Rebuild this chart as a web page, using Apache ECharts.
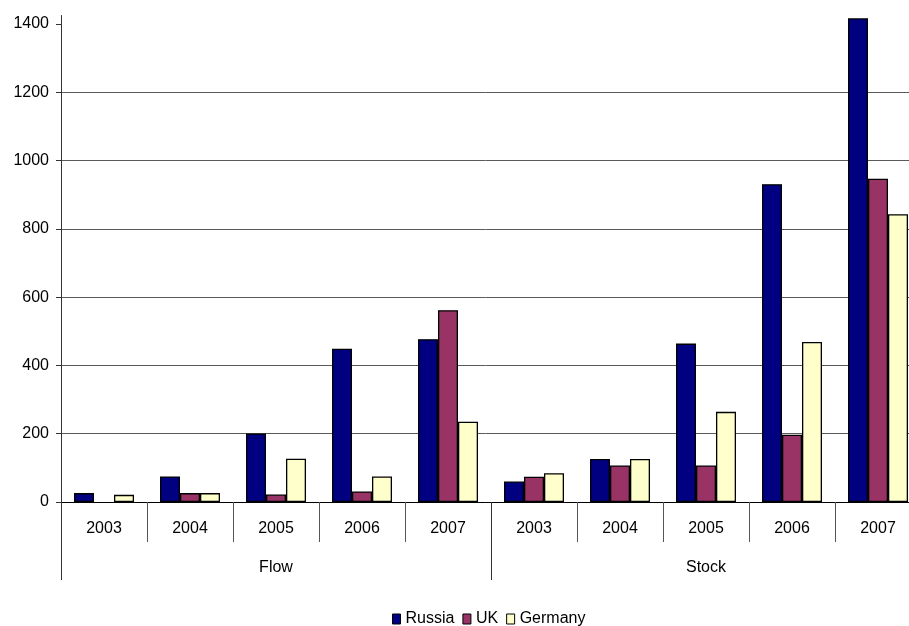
<!DOCTYPE html>
<html>
<head>
<meta charset="utf-8">
<script src="https://cdn.jsdelivr.net/npm/echarts@6/dist/echarts.min.js"></script>
<style>
  html, body { margin: 0; padding: 0; background: #fff; }
  #chart { width: 909px; height: 626px; }
</style>
</head>
<body>
<div id="chart"></div>
<script>
// Categories: five years under each of the two groups
const groups = ['Flow', 'Stock'];
const years = ['2003', '2004', '2005', '2006', '2007'];

// Values per country: Flow 2003-2007, then Stock 2003-2007
const russia  = [26, 75, 201, 449, 477, 60, 126, 464, 931, 1417];
const uk      = [null, 26, 22, 31, 562, 74, 107, 107, 197, 947];
const germany = [21, 26, 127, 75, 235, 84, 126, 264, 469, 843];

// Value axis tick labels
const yTicks = [0, 200, 400, 600, 800, 1000, 1200, 1400];

const seriesNames = ['Russia', 'UK', 'Germany'];
const seriesColors = ['#000080', '#993366', '#FFFFCC'];
const seriesData = [russia, uk, germany];

const yearCategories = [];
groups.forEach(() => years.forEach(y => yearCategories.push(y)));

const font = 'Liberation Sans, Arial, sans-serif';

const chart = echarts.init(document.getElementById('chart'), null, { renderer: 'canvas' });

chart.setOption({
  animation: false,
  backgroundColor: '#ffffff',
  textStyle: { fontFamily: font, color: '#000' },
  // plot area runs a little past the right edge of the canvas
  grid: {
    left: 61, width: 860, top: 15.5, bottom: 124,
    containLabel: false,
    outerBoundsMode: 'none'
  },
  legend: {
    data: seriesNames,
    left: 392,
    top: 611,
    padding: 0,
    itemWidth: 8,
    itemHeight: 10,
    itemGap: 8,
    icon: 'rect',
    textStyle: { fontFamily: font, fontSize: 16, color: '#000' },
    itemStyle: { borderColor: '#000', borderWidth: 1 }
  },
  xAxis: [
    {
      type: 'category',
      data: yearCategories,
      position: 'bottom',
      axisLine: { show: true, onZero: false, lineStyle: { color: '#000', width: 1 } },
      axisTick: { show: true, interval: 0, length: 40, lineStyle: { color: '#555' } },
      axisLabel: { interval: 0, margin: 19, fontSize: 16, fontFamily: font, color: '#000' },
      splitLine: { show: false }
    },
    {
      type: 'category',
      data: groups,
      position: 'bottom',
      axisLine: { show: false },
      axisTick: { show: true, interval: 0, length: 78, lineStyle: { color: '#333' } },
      axisLabel: { interval: 0, margin: 58, fontSize: 16, fontFamily: font, color: '#000' },
      splitLine: { show: false }
    }
  ],
  yAxis: {
    type: 'value',
    min: 0,
    max: 1425,
    interval: 200,
    axisLine: { show: true, lineStyle: { color: '#333', width: 1 } },
    axisTick: { show: true, length: 5, customValues: yTicks, lineStyle: { color: '#333' } },
    axisLabel: {
      margin: 12, fontSize: 16, fontFamily: font, color: '#000',
      customValues: yTicks,
      formatter: v => String(v)
    },
    splitLine: { show: true, showMaxLine: false, lineStyle: { color: '#5a5a5a', width: 1 } }
  },
  series: seriesNames.map((name, i) => ({
    name: name,
    type: 'bar',
    xAxisIndex: 0,
    data: seriesData[i],
    barWidth: 20,
    barGap: '0%',
    itemStyle: { color: seriesColors[i], borderColor: '#000', borderWidth: 1.3 }
  }))
});
</script>
</body>
</html>
